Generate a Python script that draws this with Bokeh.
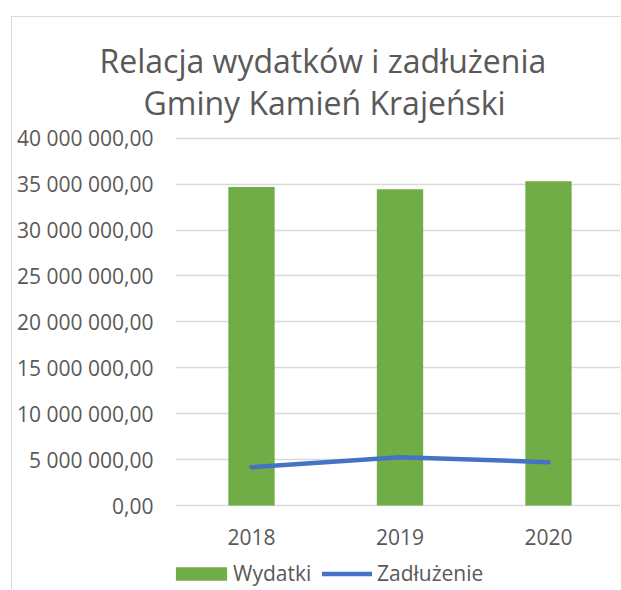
from bokeh.plotting import figure
from bokeh.models import Range1d, FixedTicker, Legend, LegendItem, Title
from bokeh.embed import file_html
from bokeh.resources import INLINE

years = ["2018", "2019", "2020"]
wydatki = [34690000, 34440000, 35310000]
zadluzenie = [4170000, 5260000, 4720000]
y_ticks = [0, 5000000, 10000000, 15000000, 20000000, 25000000, 30000000, 35000000, 40000000]
title_lines = ["Relacja wydatków i zadłużenia", "Gminy Kamień Krajeński"]

def fmt(v):
    return f"{v:,.2f}".replace(",", " ").replace(".", ",")

xs = list(range(len(years)))
TXT = "#595959"
FONT = "Open Sans"

p = figure(width=609, height=573, output_backend="svg", toolbar_location=None,
           x_range=Range1d(-0.5118, 2.4916), y_range=Range1d(-9256700, 41709800),
           min_border_left=163, min_border_top=105, min_border_bottom=0,
           min_border_right=0, outline_line_color=None)
p.margin = (16, 0, 0, 11)
p.styles = {"border-left": "1px solid #D9D9D9", "border-top": "1px solid #D9D9D9"}

bars = p.vbar(x=xs, top=wydatki, width=0.312, fill_color="#70AD47", line_color=None)
line = p.line(x=xs, y=zadluzenie, line_color="#4472C4", line_width=4.5, line_cap="round", line_join="round")

p.xgrid.grid_line_color = None
p.ygrid.grid_line_color = "#D9D9D9"
p.ygrid.grid_line_width = 1.3

p.yaxis.ticker = FixedTicker(ticks=y_ticks)
p.yaxis.major_label_overrides = {t: fmt(t) for t in y_ticks}
p.xaxis.ticker = FixedTicker(ticks=xs)
p.xaxis.major_label_overrides = {i: y for i, y in enumerate(years)}
p.xaxis.fixed_location = 0
for ax in (p.xaxis[0], p.yaxis[0]):
    ax.axis_line_color = None
    ax.major_tick_line_color = None
    ax.minor_tick_line_color = None
    ax.major_tick_out = 0
    ax.major_tick_in = 0
    ax.major_label_text_font = FONT
    ax.major_label_text_font_size = "21px"
    ax.major_label_text_color = TXT
p.yaxis.major_label_standoff = 22
p.xaxis.major_label_standoff = 23

# title lines (added bottom line first: later additions stack above)
offsets = [-76, -32]
for t, off in reversed(list(zip(title_lines, offsets))):
    p.add_layout(Title(text=t, align="left", offset=off, standoff=-3,
                       text_font=FONT, text_font_size="32px", text_font_style="normal",
                       text_color=TXT), "above")

common = dict(orientation="horizontal", padding=0, margin=0, spacing=0,
              border_line_color=None, background_fill_alpha=0,
              label_text_font=FONT, label_text_font_size="21px", label_text_color=TXT)
leg1 = Legend(items=[LegendItem(label="Wydatki", renderers=[bars])],
              location=(-6, 3), glyph_width=64, glyph_height=17, label_standoff=0, **common)
leg2 = Legend(items=[LegendItem(label="Zadłużenie", renderers=[line])],
              location=(147, 3), glyph_width=50, glyph_height=17, label_standoff=5, **common)
p.add_layout(leg1)
p.add_layout(leg2)

open("out.html", "w").write(file_html(p, INLINE))
